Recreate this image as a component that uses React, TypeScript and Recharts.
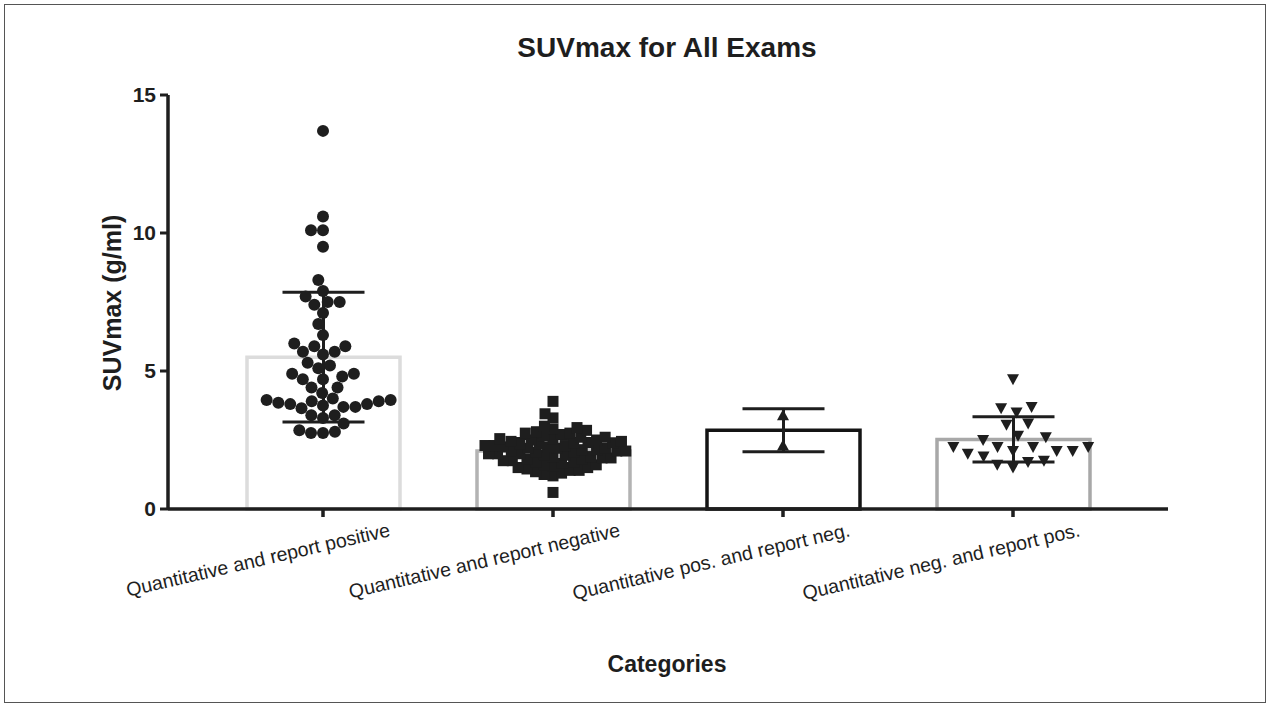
import React from "react";
import { ComposedChart, Bar, Cell, ErrorBar, Scatter, XAxis, YAxis } from "recharts";

// categories and summary values (mean ± SD)
const categories = [
  "Quantitative and report positive",
  "Quantitative and report negative",
  "Quantitative pos. and report neg.",
  "Quantitative neg. and report pos.",
];
const means = [5.5, 2.1, 2.85, 2.52];
const sds = [2.35, 0.45, 0.78, 0.82];
const yTicks = [0, 5, 10, 15];

// individual exams, SUVmax (g/ml)
const quantPosReportPos = [
  13.7, 10.6, 10.1, 10.1, 9.5, 8.3, 7.9, 7.7, 7.5, 7.5, 7.4, 7.1, 6.7, 6.3, 6.0, 5.9, 5.9,
  5.7, 5.7, 5.6, 5.3, 5.2, 5.1, 4.9, 4.9, 4.8, 4.7, 4.7, 4.4, 4.4, 4.2, 4.0, 3.95, 3.95,
  3.9, 3.9, 3.85, 3.8, 3.8, 3.75, 3.7, 3.7, 3.65, 3.4, 3.4, 3.3, 3.1, 2.85, 2.8, 2.75, 2.75,
];
const quantNegReportNeg = [
  3.9, 3.45, 3.3, 3.0, 2.95, 2.9, 2.85, 2.8, 2.75, 2.75, 0.6,
  1.2, 1.25, 1.3, 1.35, 1.4, 1.4, 1.45, 1.5, 1.5, 1.55, 1.6, 1.6, 1.65, 1.7, 1.7, 1.75,
  1.75, 1.8, 1.8, 1.85, 1.85, 1.9, 1.9, 1.95, 1.95, 2.0, 2.0, 2.0, 2.05, 2.05, 2.1, 2.1,
  2.1, 2.15, 2.15, 2.2, 2.2, 2.2, 2.25, 2.25, 2.3, 2.3, 2.3, 2.35, 2.35, 2.4, 2.4, 2.4,
  2.45, 2.45, 2.5, 2.5, 2.55, 2.55, 2.6, 2.6, 2.65, 2.7,
];
const quantPosReportNeg = [3.4, 2.3];
const quantNegReportPos = [
  4.7, 3.7, 3.5, 3.65, 3.1, 3.05, 2.6, 2.65, 2.5, 2.1, 2.1, 2.25, 2.25, 2.25, 2.25, 2.0,
  2.1, 1.9, 1.7, 1.5, 1.6, 1.75,
];

const FONT = "'Liberation Sans', Arial, Helvetica, sans-serif";
const INK = "#1e1e1e";
const PLOT_H = 414;
const PX_PER_UNIT = PLOT_H / 15;
const BAND_PX = 230;
const PAD = 40;

// simple beeswarm: sorted values, each point pushed sideways until it no longer overlaps
function swarm(values: number[], group: number, diam: number) {
  const sorted = [...values].sort((a, b) => a - b);
  const placed: { x: number; y: number }[] = [];
  return sorted.map((v) => {
    const y = v * PX_PER_UNIT;
    const near = placed.filter((p) => Math.abs(p.y - y) < diam);
    const cands = [0];
    near.forEach((p) => {
      const dx = Math.sqrt(diam * diam - (p.y - y) ** 2);
      cands.push(p.x + dx, p.x - dx);
    });
    cands.sort((a, b) => Math.abs(a) - Math.abs(b) || a - b);
    const x =
      cands.find((c) => near.every((p) => (p.x - c) ** 2 + (p.y - y) ** 2 >= diam * diam - 0.01)) ?? 0;
    placed.push({ x, y });
    return { x: group + x / BAND_PX, y: v };
  });
}

const barData = categories.map((name, i) => ({ name, mean: means[i], sd: sds[i] }));
const barStrokes = ["#dcdcdc", "#b3b3b3", "#141414", "#a8a8a8"];

const Dot = ({ cx, cy }: any) => <circle cx={cx} cy={cy} r={6} fill={INK} />;
const Sq = ({ cx, cy }: any) => <rect x={cx - 5.5} y={cy - 5.5} width={11} height={11} fill={INK} />;
const TriUp = ({ cx, cy }: any) => (
  <path d={`M${cx},${cy - 6} L${cx + 6},${cy + 5} L${cx - 6},${cy + 5} Z`} fill={INK} />
);
const TriDown = ({ cx, cy }: any) => (
  <path d={`M${cx - 6},${cy - 5} L${cx + 6},${cy - 5} L${cx},${cy + 6} Z`} fill={INK} />
);

function CategoryTick({ x, y, payload }: any) {
  return (
    <g transform={`translate(${x + 68},${y + 17})`}>
      <text textAnchor="end" transform="rotate(-13)" fontSize={19.5} fill={INK} fontFamily={FONT}>
        {payload.value}
      </text>
    </g>
  );
}

export default function App() {
  const domLo = 0.5 - PAD / BAND_PX;
  const domHi = 4.5 + PAD / BAND_PX;
  return (
    <div style={{ position: "absolute", left: 0, top: 0, width: 1267, height: 704, background: "#fff" }}>
      <ComposedChart
        width={1267}
        height={704}
        data={barData}
        margin={{ top: 95, right: 99, bottom: 0, left: 0 }}
      >
        <XAxis
          xAxisId="cat"
          dataKey="name"
          type="category"
          padding={{ left: PAD, right: PAD }}
          height={195}
          interval={0}
          tickSize={8}
          tickMargin={2}
          axisLine={{ stroke: INK, strokeWidth: 3.5 }}
          tickLine={{ stroke: INK, strokeWidth: 3.5 }}
          tick={<CategoryTick />}
        />
        <XAxis xAxisId="num" dataKey="x" type="number" domain={[domLo, domHi]} allowDataOverflow hide />
        <YAxis
          type="number"
          domain={[0, 15]}
          ticks={yTicks}
          width={168}
          tickSize={8}
          tickMargin={4}
          axisLine={{ stroke: INK, strokeWidth: 3.5 }}
          tickLine={{ stroke: INK, strokeWidth: 3 }}
          tick={{ fill: INK, fontSize: 21, fontWeight: 700, fontFamily: FONT }}
        />
        <Bar xAxisId="cat" dataKey="mean" barSize={153} fill="#fff" strokeWidth={3.5} isAnimationActive={false}>
          {barData.map((d, i) => (
            <Cell key={d.name} stroke={barStrokes[i]} />
          ))}
          <ErrorBar dataKey="sd" width={41} stroke={INK} strokeWidth={3} />
        </Bar>
        <Scatter xAxisId="num" dataKey="y" data={swarm(quantPosReportPos, 1, 12)} shape={<Dot />} isAnimationActive={false} />
        <Scatter xAxisId="num" dataKey="y" data={swarm(quantNegReportNeg, 2, 9)} shape={<Sq />} isAnimationActive={false} />
        <Scatter xAxisId="num" dataKey="y" data={swarm(quantPosReportNeg, 3, 12)} shape={<TriUp />} isAnimationActive={false} />
        <Scatter xAxisId="num" dataKey="y" data={swarm(quantNegReportPos, 4, 16)} shape={<TriDown />} isAnimationActive={false} />
      </ComposedChart>
      <svg
        width={1267}
        height={704}
        style={{ position: "absolute", left: 0, top: 0, pointerEvents: "none" }}
        fontFamily={FONT}
        fill={INK}
      >
        <rect x={4.5} y={4.5} width={1261} height={698} fill="none" stroke="#555" strokeWidth={1} />
        <text x={667} y={57} textAnchor="middle" fontSize={28} fontWeight={700}>
          SUVmax for All Exams
        </text>
        <text transform="translate(121,303) rotate(-90)" textAnchor="middle" fontSize={25} fontWeight={700}>
          SUVmax (g/ml)
        </text>
        <text x={667} y={672} textAnchor="middle" fontSize={23} fontWeight={700}>
          Categories
        </text>
      </svg>
    </div>
  );
}
